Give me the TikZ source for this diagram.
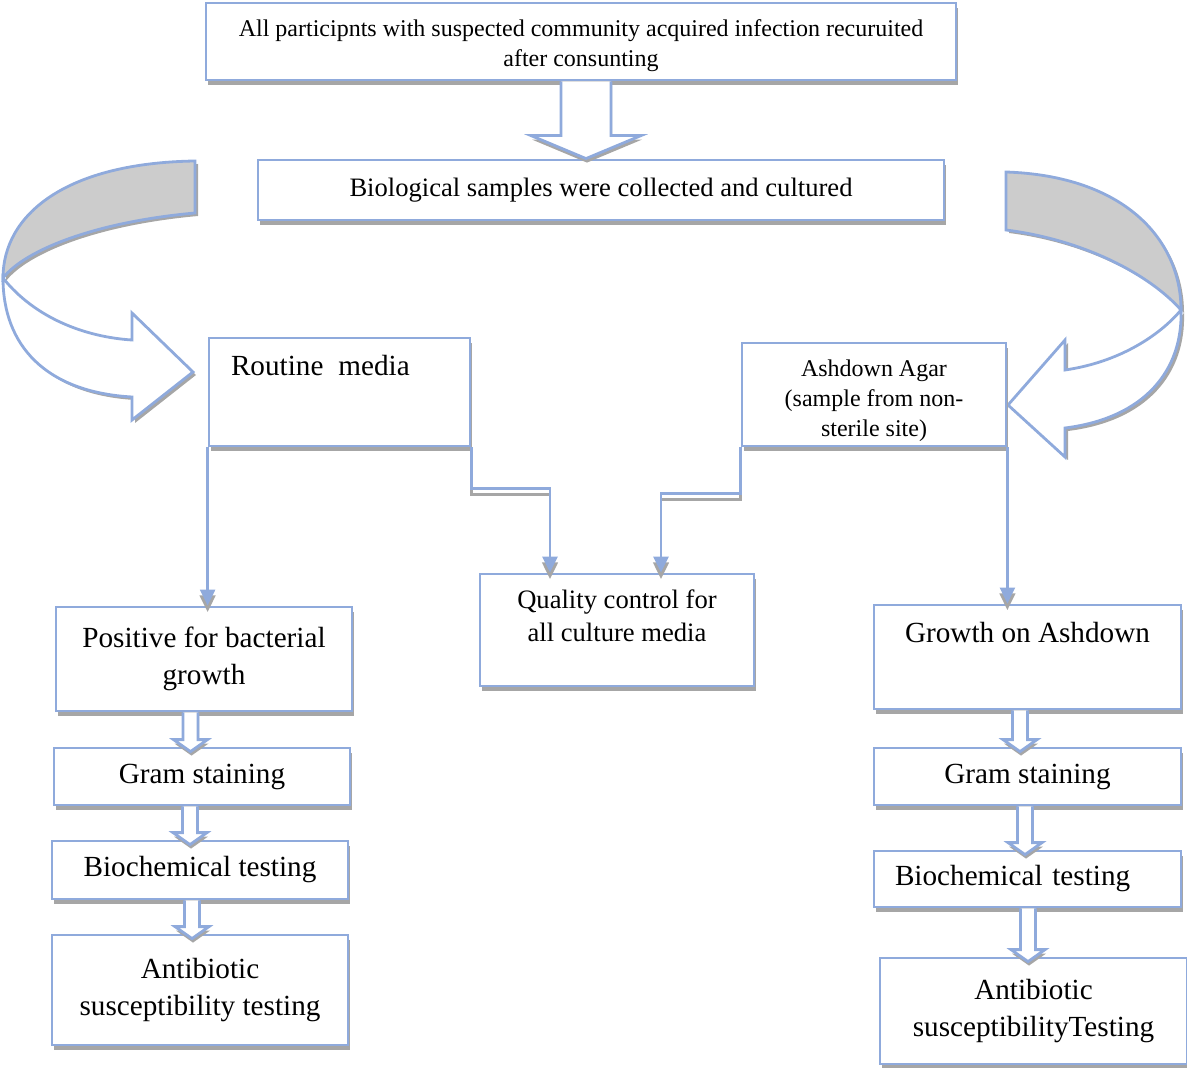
\documentclass[tikz,border=0pt]{standalone}
\usepackage{fontspec}
\setmainfont{Liberation Serif}
\usetikzlibrary{calc, shadows, arrows.meta}

\definecolor{edgeblue}{RGB}{143,170,220}

\newcommand{\bigsize}{\fontsize{14.6}{18.5}\selectfont}
\newcommand{\midsize}{\fontsize{13.3}{16.5}\selectfont}
\newcommand{\smallsize}{\fontsize{12}{15}\selectfont}

% hollow block arrow: source, target, x offset, shaft half, head half, head length, tip overlap
\newcommand{\hollowarrow}[7]{%
  \path ($(#1.south)+(#3,0pt)$) coordinate (ha)
        ($(ha |- #2.north)+(0pt,-#7)$) coordinate (hb);
  \draw[hollow] ($(ha)+(-#4,0pt)$) -- ($(hb)+(-#4,#6)$) -- ($(hb)+(-#5,#6)$) -- (hb)
     -- ($(hb)+(#5,#6)$) -- ($(hb)+(#4,#6)$) -- ($(ha)+(#4,0pt)$);
}

\begin{document}
\begin{tikzpicture}[x=0.5pt, y=-0.5pt, line width=1.4pt,
    box/.style={draw=edgeblue, fill=white, inner sep=0pt, align=center,
      drop shadow={shadow xshift=1pt, shadow yshift=-2.5pt, fill=gray!70, opacity=1}},
    hollow/.style={draw=edgeblue, fill=white, line width=1.4pt,
      drop shadow={shadow xshift=0.5pt, shadow yshift=-2pt, fill=gray!70, opacity=1}},
    conn/.style={draw=edgeblue, line width=1.2pt, -{Triangle[length=8pt, width=7.5pt]},
      preaction={draw=gray!70, transform canvas={yshift=-3pt}}},
    ribbon/.style={draw=edgeblue, line width=1.4pt,
      drop shadow={shadow xshift=1.5pt, shadow yshift=-1.5pt, fill=gray!70, opacity=1}}]
    \useasboundingbox (0,0) rectangle (1187,1068);

    % Curved arrows
    \draw[ribbon, fill=gray!40] (195,161) .. controls (65,163) and (3,215) .. (3,278)
        .. controls (25,250) and (95,222) .. (195,213) -- cycle;
    \draw[ribbon, fill=white] (3,278) .. controls (35,318) and (85,337) .. (132,340)
        -- (132,313) -- (193,372) -- (132,420) -- (132,397)
        .. controls (45,392) and (3,345) .. (3,278) -- cycle;
    \draw[ribbon, fill=gray!40] (1006,172) .. controls (1125,176) and (1181,240) .. (1181,310)
        .. controls (1150,275) and (1085,240) .. (1006,230) -- cycle;
    \draw[ribbon, fill=white] (1181,310) .. controls (1160,335) and (1120,362) .. (1065,370)
        -- (1065,340) -- (1008,405) -- (1065,457) -- (1065,428)
        .. controls (1145,418) and (1183,370) .. (1181,310) -- cycle;

    % Boxes
    \node[box, minimum width=375pt, minimum height=38.5pt, font=\smallsize] (top) at (581,41.5)
        {\\[-2pt]All participnts with suspected community acquired infection recuruited\\after consunting};
    \node[box, minimum width=343pt, minimum height=30pt, font=\midsize] (bio) at (601,190)
        {Biological samples were collected and cultured};
    \node[box, font=\bigsize, align=left, text width=108.5pt, inner xsep=11pt, inner ysep=9pt,
        text height=10pt, text depth=26pt] (routine) at (339.5,392) {Routine\hspace{7.5pt}media};
    \node[box, minimum width=132pt, minimum height=51.5pt, font=\smallsize] (ash) at (874,394.5)
        {\\[0pt]Ashdown Agar\\(sample from non-\\sterile site)};
    \node[box, minimum width=137pt, minimum height=56pt, font=\midsize] (qual) at (617,630)
        {Quality control for\\all culture media\\[-2pt]\mbox{}};

    \node[box, minimum width=148pt, minimum height=52pt, font=\bigsize] (pos) at (204,659)
        {Positive for bacterial\\growth};
    \node[box, minimum width=148pt, minimum height=28.5pt, font=\bigsize] (gramL) at (202,776.5)
        {Gram staining};
    \node[box, minimum width=148pt, minimum height=29pt, font=\bigsize] (biochemL) at (200,870)
        {Biochemical testing};
    \node[box, minimum width=148pt, minimum height=55pt, font=\bigsize] (antiL) at (200,990)
        {Antibiotic\\susceptibility testing};

    \node[box, minimum width=153.5pt, font=\bigsize, inner ysep=8.5pt,
        text height=10pt, text depth=25pt] (growth) at (1027.5,657) {Growth on Ashdown};
    \node[box, minimum width=153.5pt, minimum height=28.5pt, font=\bigsize] (gramR) at (1027.5,776.5)
        {Gram staining};
    \node[box, minimum height=28pt, font=\bigsize, align=left, text width=132.5pt,
        inner xsep=10.5pt] (biochemR) at (1027.5,879) {Biochemical testing};
    \node[box, minimum width=153.5pt, minimum height=53pt, font=\bigsize] (antiR) at (1033.5,1011)
        {Antibiotic\\susceptibilityTesting};

    % Connectors
    \draw[conn] (routine.south west) -- (routine.south west |- pos.north);
    \draw[conn] (routine.south east) -- ++(0,41) -| ($(qual.north)+(-67,0)$);
    \draw[conn] (ash.south west) -- ++(0,46) -| ($(qual.north)+(44,0)$);
    \draw[conn] (ash.south east) -- (ash.south east |- growth.north);

    % Block arrows
    \hollowarrow{top}{bio}{2.5pt}{12.5pt}{27.5pt}{11.5pt}{0pt}
    \hollowarrow{pos}{gramL}{-6.75pt}{3.75pt}{8.5pt}{6pt}{2.5pt}
    \hollowarrow{gramL}{biochemL}{-6pt}{3.75pt}{8.5pt}{6pt}{2.5pt}
    \hollowarrow{biochemL}{antiL}{-4pt}{3.75pt}{8.5pt}{6pt}{2.5pt}
    \hollowarrow{growth}{gramR}{-3.75pt}{3.75pt}{8.5pt}{6pt}{2.5pt}
    \hollowarrow{gramR}{biochemR}{-1.25pt}{3.75pt}{8.5pt}{6pt}{2.5pt}
    \hollowarrow{biochemR}{antiR}{0.25pt}{3.75pt}{8.5pt}{6pt}{2.5pt}
\end{tikzpicture}
\end{document}
